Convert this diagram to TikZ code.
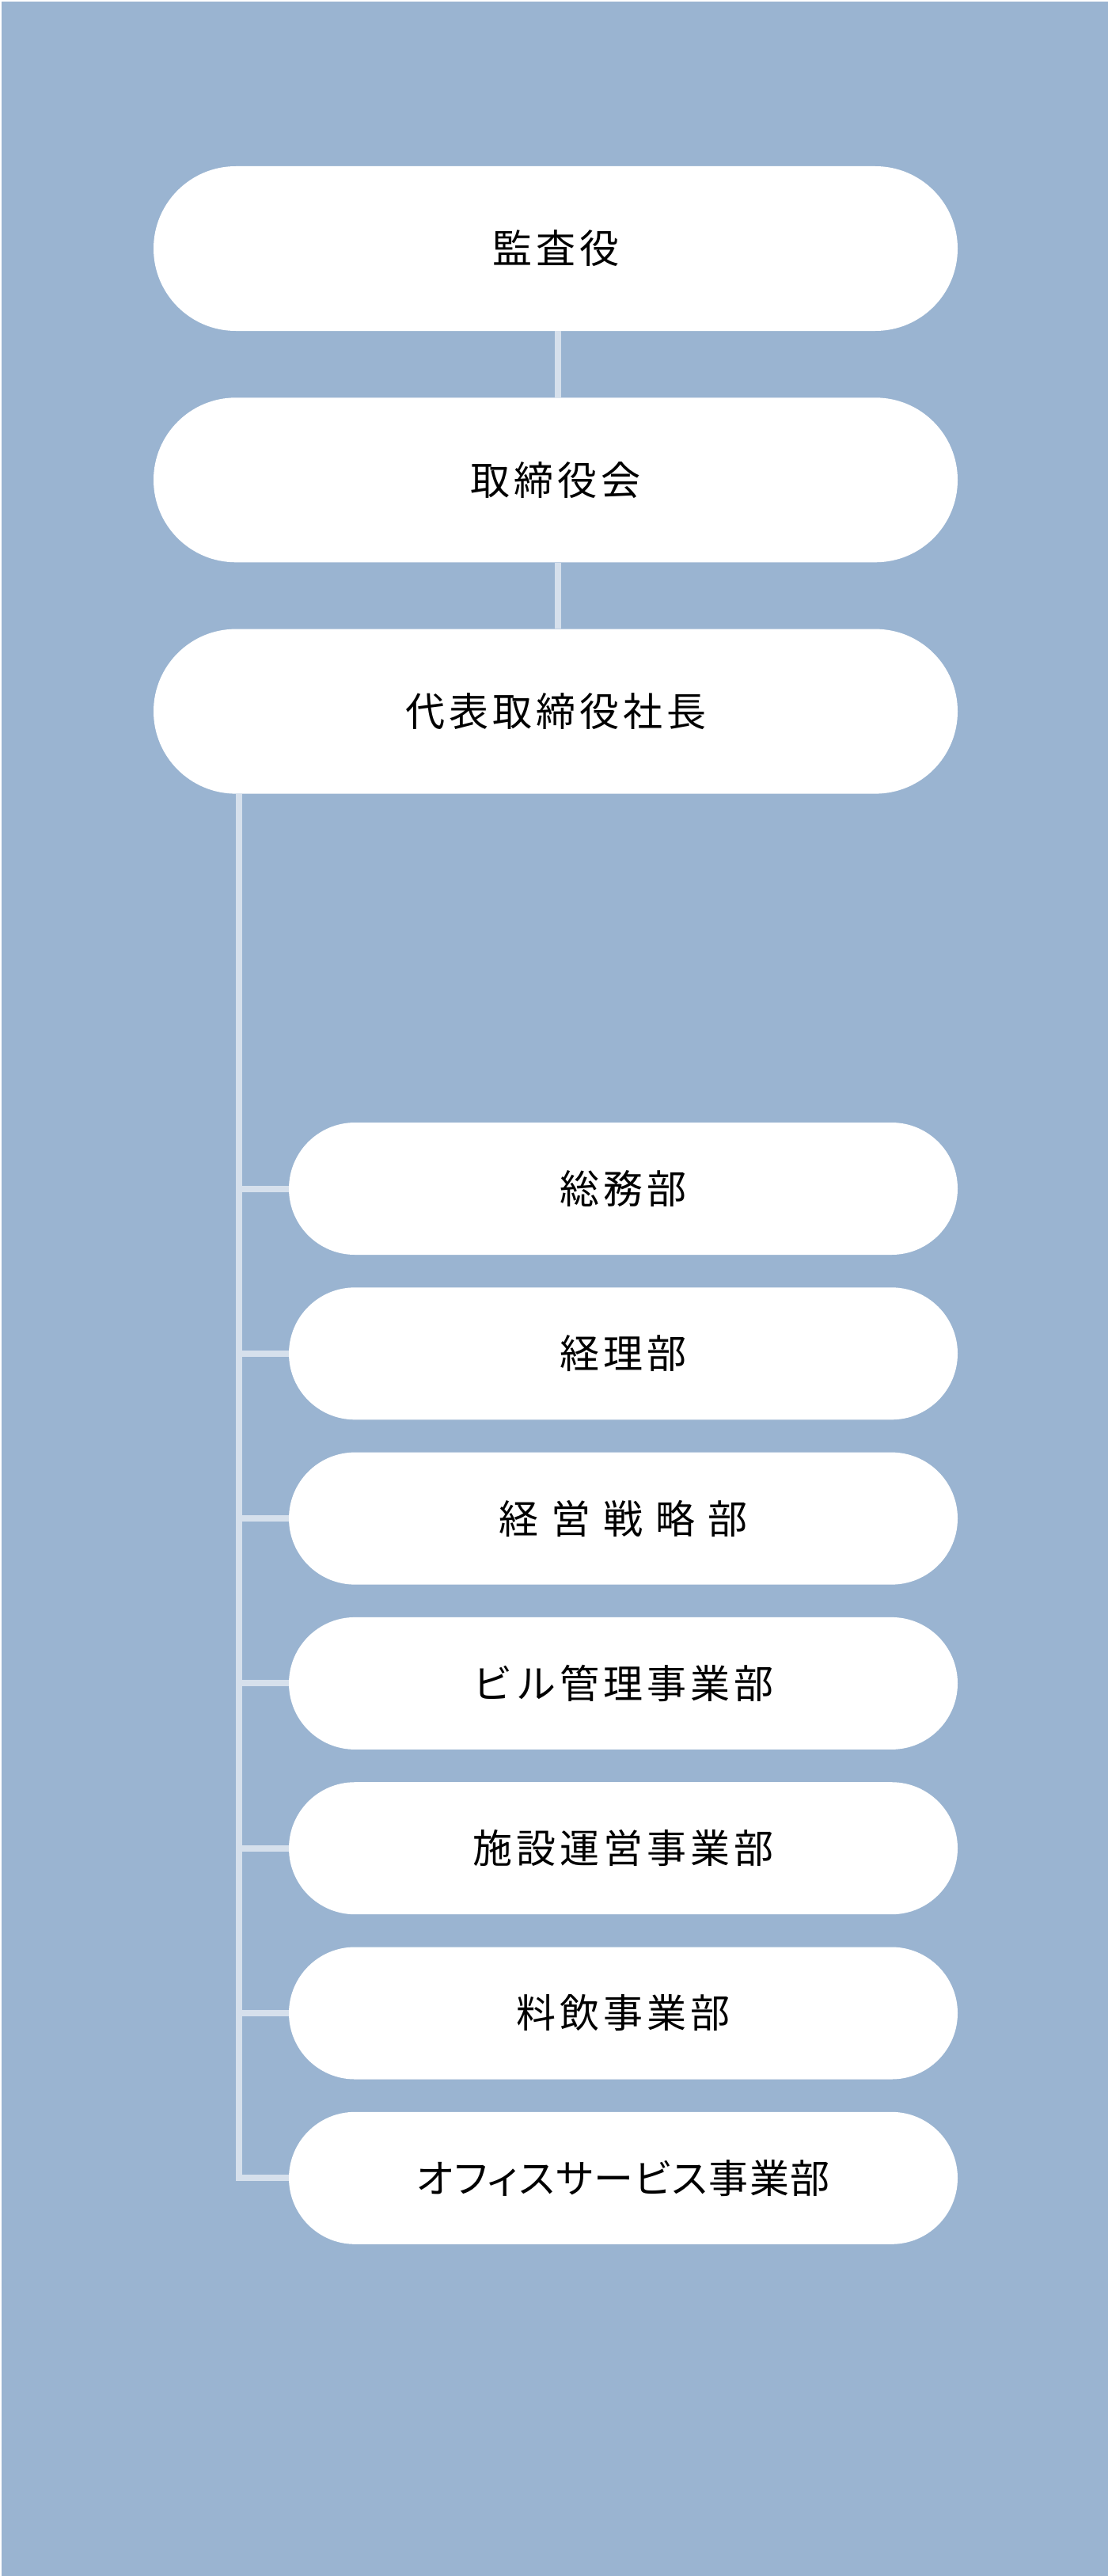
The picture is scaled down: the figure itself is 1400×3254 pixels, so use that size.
\documentclass[tikz,border=0pt]{standalone}
\usepackage{fontspec}
\newfontfamily\jp[LetterSpace=10]{Noto Sans CJK JP}
\newfontfamily\jpwide[LetterSpace=32]{Noto Sans CJK JP}
\newfontfamily\jpkana[LetterSpace=3,RawFeature=+palt]{Noto Sans CJK JP}
\usepackage{tikz}
\usetikzlibrary{positioning, calc}
\definecolor{bgblue}{HTML}{9AB4D1}
\definecolor{linegray}{HTML}{D6E0EC}
\tikzset{
    orgbox/.style = {inner sep=0pt, text centered, fill=white,
        font=\jp\fontsize{25pt}{30pt}\selectfont},
    topbox/.style = {orgbox, minimum width=508pt, minimum height=104pt,
        rounded corners=52pt},
    deptbox/.style = {orgbox, minimum width=422.5pt, minimum height=83.5pt,
        rounded corners=41.75pt},
    conn/.style = {draw=linegray, line width=4pt},
}

\begin{document}
\begin{tikzpicture}[x=0.5pt,y=-0.5pt,node distance=41.75pt]
        \useasboundingbox (0,0) rectangle (1400,3254);
        \fill[bgblue] (2,2) rectangle (1400,3254);
        % top of the chart
        \node [topbox] (audit) at (702,314) {監査役};
        \node [topbox, below=of audit] (board) {取締役会};
        \node [topbox, below=of board] (ceo) {代表取締役社長};
        \draw [conn] ([xshift=1.5pt]audit.south) -- ([xshift=1.5pt]board.north);
        \draw [conn] ([xshift=1.5pt]board.south) -- ([xshift=1.5pt]ceo.north);
        % departments
        \begin{scope}[node distance=20.25pt]
        \node [deptbox] (d1) at (787.5,1501.5) {総務部};
        \node [deptbox, below=of d1] (d2) {経理部};
        \node [deptbox, below=of d2, font=\jpwide\fontsize{25pt}{30pt}\selectfont] (d3) {経営戦略部};
        \node [deptbox, below=of d3] (d4) {ビル管理事業部};
        \node [deptbox, below=of d4] (d5) {施設運営事業部};
        \node [deptbox, below=of d5] (d6) {料飲事業部};
        \node [deptbox, below=of d6, font=\jpkana\fontsize{25pt}{30pt}\selectfont] (d7) {オフィスサービス事業部};
        \end{scope}
        \coordinate (trunk) at ([xshift=54pt]ceo.south west);
        \foreach \i in {1,...,7}
            \draw [conn] (trunk) |- (d\i.west);
\end{tikzpicture}
\end{document}
